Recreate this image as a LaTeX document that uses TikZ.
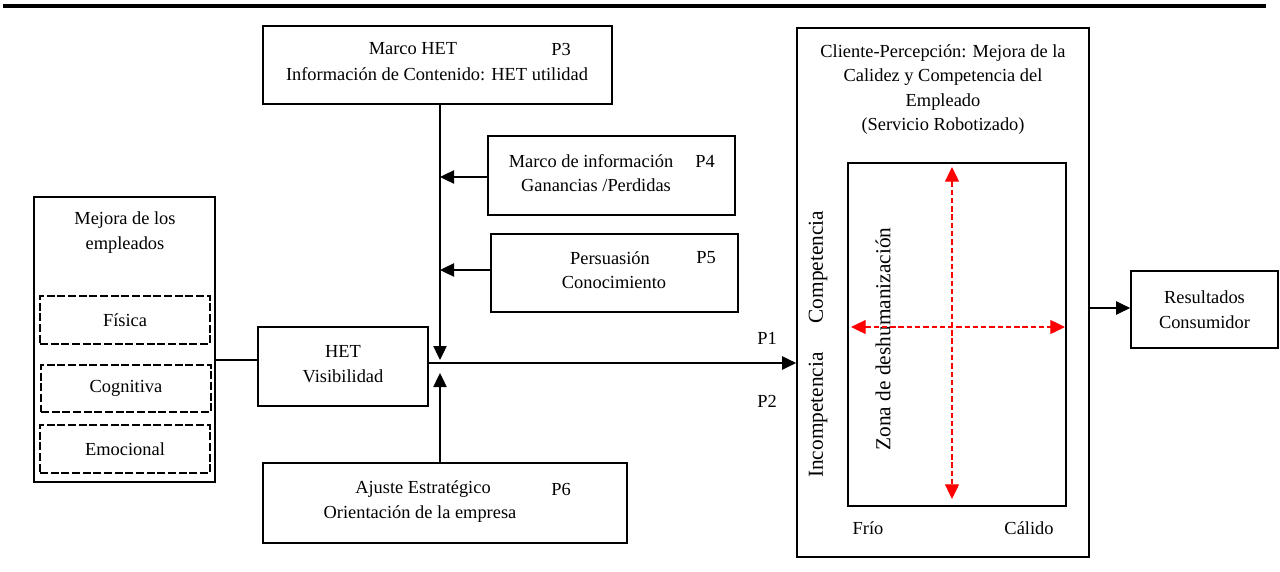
\documentclass[tikz,border=0pt]{standalone}
\usepackage{fontspec}
\setmainfont{Liberation Serif}
\usetikzlibrary{arrows.meta,fit}
\begin{document}
\begin{tikzpicture}[x=0.75pt,y=-0.75pt,
  every node/.style={font=\fontsize{13.8}{18.4}\selectfont, inner sep=0pt},
  side/.style={rotate=90, font=\fontsize{16}{18}\selectfont},
  box/.style={draw, line width=1.3pt, inner sep=0pt},
  dbox/.style={draw, dash pattern=on 6pt off 2pt, line width=1.2pt, inner sep=0pt},
  lbl/.style={align=center},
  arr/.style={line width=0.9pt, -{Triangle[length=10.5pt,width=10pt]}},
  link/.style={line width=0.9pt},
  redarr/.style={red, dash pattern=on 4pt off 2.2pt, line width=0.9pt,
    {Triangle[length=11pt,width=10.5pt]}-{Triangle[length=11pt,width=10.5pt]}}]
\useasboundingbox (0,0) rectangle (1280,571);

% header rule
\draw[line width=2.3pt] (3,6) -- (1266,6);

% boxes
\node[box, fit={(263,26) (612,104)}] (p3) {};
\node[box, fit={(488,136) (735,215)}] (p4) {};
\node[box, fit={(491,234) (738,312)}] (p5) {};
\node[box, fit={(258,327) (428,406)}] (het) {};
\node[box, fit={(263,463) (627,543)}] (p6) {};
\node[box, fit={(34,197) (215,482)}] (emp) {};
\node[dbox, fit={(40,296) (210,344)}] (fis) {};
\node[dbox, fit={(41,365) (211,412)}] (cog) {};
\node[dbox, fit={(40,425) (210,473)}] (emo) {};
\node[box, fit={(797,28) (1089,557)}] (cli) {};
\node[box, fit={(848,163) (1066,506)}] (zone) {};
\node[box, fit={(1131,271) (1278,348)}] (res) {};

% texts
\node at (413,49) (t3a) {Marco HET};
\node at (561,49) (t3b) {P3};
\node at (437,74) (t3c) {Información de Contenido: HET utilidad};
\node at (591,161) (t4a) {Marco de información};
\node at (705,161) (t4b) {P4};
\node at (596,185) (t4c) {Ganancias /Perdidas};
\node at (610,258) (t5a) {Persuasión};
\node at (706,258) (t5b) {P5};
\node at (614,282) (t5c) {Conocimiento};
\node[lbl] at (343,364) (thet) {HET\\Visibilidad};
\node at (423,489) (t6a) {Ajuste Estratégico};
\node at (561,489) (t6b) {P6};
\node at (420,514) (t6c) {Orientación de la empresa};
\node[lbl] at (125,232.5) (temp) {Mejora de los\\empleados};
\node at (125,320) (tfis) {Física};
\node at (126,388.5) (tcog) {Cognitiva};
\node at (125,449) (temo) {Emocional};
\node[lbl] at (943,89.5) (tcli) {Cliente-Percepción: Mejora de la\\Calidez y Competencia del\\Empleado\\(Servicio Robotizado)};
\node[side] at (818,267) (tcomp) {Competencia};
\node[side] at (818,415) (tinc) {Incompetencia};
\node[side] at (883,339) (tzona) {Zona de deshumanización};
\node at (868,528) (tfrio) {Frío};
\node at (1029,528) (tcal) {Cálido};
\node[lbl] at (1204.5,309.5) (tres) {Resultados\\Consumidor};
\node at (767,338) (p1) {P1};
\node at (767,401) (p2) {P2};

% connectors
\coordinate (jtop) at (440,360);
\coordinate (jbot) at (440,373);
\draw[arr] (p3.south -| jtop) -- (jtop);
\draw[arr] (p4.west |- 0,177) -- (440,177);
\draw[arr] (p5.west |- 0,270) -- (440,270);
\draw[arr] (p6.north -| jbot) -- (jbot);
\draw[link] (emp.east |- 0,360) -- (het.west |- 0,360);
\draw[arr] (het.east |- 0,363) -- (cli.west |- 0,363);
\draw[arr] (cli.east |- 0,308) -- (res.west |- 0,308);

% red axes of the warmth / competence grid
\coordinate (vtop) at (952,167);
\coordinate (vbot) at (952,499);
\coordinate (hl) at (851,327);
\coordinate (hr) at (1065,327);
\draw[redarr] (vtop) -- (vbot);
\draw[redarr] (hl) -- (hr);
\end{tikzpicture}
\end{document}
